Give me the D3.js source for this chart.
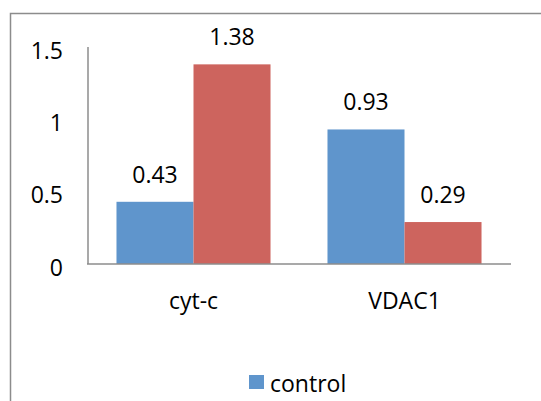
<!DOCTYPE html>
<html><head><meta charset="utf-8">
<script src="https://cdn.jsdelivr.net/npm/d3@7"></script>
<style>body{margin:0;background:#fff;} svg{display:block;} text{font-family:"Open Sans",sans-serif;fill:#000;}</style>
</head><body>
<svg id="c" width="541" height="401"></svg>
<script>
const categories = ["cyt-c", "VDAC1"];
const seriesNames = ["control", "treated"];
const controlValues = [0.43, 0.93];
const treatedValues = [1.38, 0.29];
const yTicks = [0, 0.5, 1, 1.5];
const yTickLabels = ["0", "0.5", "1", "1.5"];
const legendNames = ["control"];
const colors = ["#5f95cc", "#cd645e"];

const svg = d3.select("#c");
const values = [controlValues, treatedValues];

// outer border (extends beyond the canvas on right and bottom)
svg.append("path").attr("d", "M10.5,402 V13.5 H545")
  .attr("fill", "none").attr("stroke", "#8c8c8c").attr("stroke-width", 1.5);

const y = d3.scaleLinear().domain([0, 1.5]).range([264, 47]);
const x = d3.scaleBand().domain(categories).range([88, 510]).paddingInner(0.27).paddingOuter(0.135);
const xs = d3.scaleBand().domain(seriesNames).range([0, x.bandwidth()]);

const fs = 23;

// bars
const g = svg.append("g");
categories.forEach((cat, ci) => {
  seriesNames.forEach((s, si) => {
    const v = values[si][ci];
    g.append("rect")
      .attr("x", x(cat) + xs(s))
      .attr("y", y(v))
      .attr("width", xs.bandwidth())
      .attr("height", y(0) - y(v))
      .attr("fill", colors[si]);
    svg.append("text")
      .attr("x", x(cat) + xs(s) + xs.bandwidth() / 2)
      .attr("y", y(v) - 19)
      .attr("text-anchor", "middle")
      .attr("font-size", fs)
      .text(v.toFixed(2));
  });
});

// axes lines
svg.append("line").attr("x1", 88).attr("x2", 88).attr("y1", y(1.5)).attr("y2", y(0))
  .attr("stroke", "#8c8c8c").attr("stroke-width", 1.5);
svg.append("line").attr("x1", 87).attr("x2", 511).attr("y1", y(0)).attr("y2", y(0))
  .attr("stroke", "#8c8c8c").attr("stroke-width", 1.5);

// y tick labels
yTicks.forEach((t, i) => {
  svg.append("text")
    .attr("x", 63).attr("y", y(t) + 11.5)
    .attr("text-anchor", "end").attr("font-size", fs)
    .text(yTickLabels[i]);
});

// category labels
categories.forEach(cat => {
  svg.append("text")
    .attr("x", x(cat) + x.bandwidth() / 2).attr("y", 309)
    .attr("text-anchor", "middle").attr("font-size", fs)
    .text(cat);
});

// legend
legendNames.forEach((n, i) => {
  svg.append("rect").attr("x", 249).attr("y", 375).attr("width", 15).attr("height", 14)
    .attr("fill", colors[i]);
  svg.append("text").attr("x", 270).attr("y", 392).attr("font-size", fs).text(n);
});
</script>
</body></html>
